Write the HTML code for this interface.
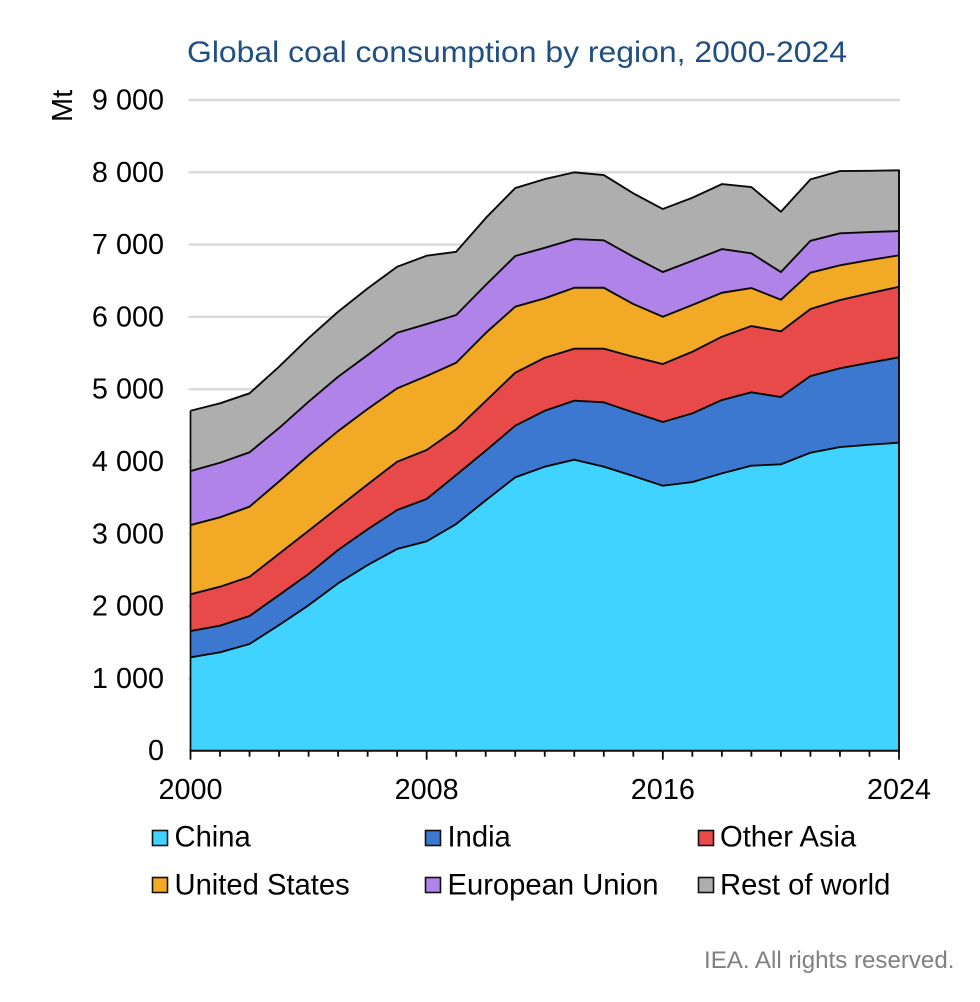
<!DOCTYPE html>
<html lang="en">
<head>
<meta charset="utf-8">
<title>Global coal consumption by region, 2000-2024</title>
<style>
html,body{margin:0;padding:0;background:#fff;width:980px;height:1002px;overflow:hidden}
svg{display:block}
text{font-family:"Liberation Sans",Arial,sans-serif;fill:#000}
</style>
</head>
<body>
<svg id="chart" xmlns="http://www.w3.org/2000/svg" width="980" height="1002" viewBox="0 0 980 1002">
  <rect width="980" height="1002" fill="#fff"/>
  <text x="187" y="62" font-size="29.6" textLength="660" lengthAdjust="spacingAndGlyphs" style="fill:#1f4e82">Global coal consumption by region, 2000-2024</text>
  <text transform="translate(72,122) rotate(-90)" font-size="29">Mt</text>
  <g id="grid"></g>
  <g id="yticks"></g>
  <g id="areas"></g>
  <g id="xaxis"></g>
  <g>
    <g>
      <rect x="152.5" y="830.5" width="15" height="15" fill="#41d3ff" stroke="#111" stroke-width="1.6"/>
      <text x="174.5" y="846.5" font-size="29.2">China</text>
    </g>
    <g>
      <rect x="425.5" y="830.5" width="15" height="15" fill="#3c78d0" stroke="#111" stroke-width="1.6"/>
      <text x="447.5" y="846.5" font-size="29.2">India</text>
    </g>
    <g>
      <rect x="698.5" y="830.5" width="15" height="15" fill="#e84a4a" stroke="#111" stroke-width="1.6"/>
      <text x="720" y="846.5" font-size="29.2">Other Asia</text>
    </g>
    <g>
      <rect x="152.5" y="877.5" width="15" height="15" fill="#f2a925" stroke="#111" stroke-width="1.6"/>
      <text x="174.5" y="894.5" font-size="29.2">United States</text>
    </g>
    <g>
      <rect x="425.5" y="877.5" width="15" height="15" fill="#b083e8" stroke="#111" stroke-width="1.6"/>
      <text x="447.5" y="894.5" font-size="29.2">European Union</text>
    </g>
    <g>
      <rect x="698.5" y="877.5" width="15" height="15" fill="#aeaeae" stroke="#111" stroke-width="1.6"/>
      <text x="720" y="894.5" font-size="29.2">Rest of world</text>
    </g>
  </g>
  <text x="704" y="968" font-size="24.1" style="fill:#808080">IEA. All rights reserved.</text>
</svg>
<script>
const years = [2000,2001,2002,2003,2004,2005,2006,2007,2008,2009,2010,2011,2012,2013,2014,2015,2016,2017,2018,2019,2020,2021,2022,2023,2024];
const china = [1292,1361,1476,1738,2011,2315,2568,2790,2896,3135,3463,3781,3928,4025,3928,3799,3665,3716,3836,3942,3961,4121,4200,4232,4260];
const india = [363,368,387,415,433,461,494,539,585,678,686,714,774,816,890,881,881,950,1014,1015,931,1061,1089,1134,1181];
const otherAsia = [508,539,543,571,599,587,622,668,678,632,687,733,733,719,742,769,802,852,876,917,908,927,944,960,976];
const unitedStates = [958,960,969,999,1040,1058,1042,1015,1023,921,941,913,822,843,843,729,654,646,608,525,437,502,480,460,434];
const europeanUnion = [747,755,752,740,744,751,746,769,719,660,664,701,699,674,656,654,618,613,604,480,383,442,443,388,336];
const restOfWorld = [834,822,816,848,880,899,923,913,945,875,926,940,950,922,903,877,872,871,899,917,834,849,861,847,840];
const yTickValues = [0,1000,2000,3000,4000,5000,6000,7000,8000,9000];
const yTickLabels = ["0","1 000","2 000","3 000","4 000","5 000","6 000","7 000","8 000","9 000"];
const xTickLabels = ["2000","2008","2016","2024"];
const seriesNames = ["china","india","other-asia","united-states","european-union","rest-of-world"];
const seriesColors = ["#41d3ff","#3c78d0","#e84a4a","#f2a925","#b083e8","#aeaeae"];
const seriesValues = [china,india,otherAsia,unitedStates,europeanUnion,restOfWorld];

const NS = "http://www.w3.org/2000/svg";
const plot = {left:190.5, right:899, bottom:750.7, top:100, max:9000};
function xScale(year){
  return plot.left + (year - years[0]) / (years[years.length-1] - years[0]) * (plot.right - plot.left);
}
function yScale(v){
  return plot.bottom - v / plot.max * (plot.bottom - plot.top);
}
function make(tag, attrs, parent){
  const el = document.createElementNS(NS, tag);
  for (const k in attrs) el.setAttribute(k, attrs[k]);
  parent.appendChild(el);
  return el;
}

const gridG = document.getElementById("grid");
const yG = document.getElementById("yticks");
yTickValues.forEach(function(v, i){
  if (v > 0) {
    const line = make("line", {x1:188.5, x2:900, y1:yScale(v), y2:yScale(v), stroke:"#d9d9d9", "stroke-width":2.4}, gridG);
    
    
  }
  const label = make("text", {x:164, y:yScale(v)+9.5, "text-anchor":"end", "font-size":28.8}, yG);
  
  
  label.textContent = yTickLabels[i];
});

const areasG = document.getElementById("areas");
let lower = years.map(function(){ return 0; });
seriesValues.forEach(function(vals, s){
  const upper = vals.map(function(v, i){ return lower[i] + v; });
  const topPts = years.map(function(y, i){ return xScale(y).toFixed(2) + "," + yScale(upper[i]).toFixed(2); });
  const botPts = years.map(function(y, i){ return xScale(y).toFixed(2) + "," + yScale(lower[i]).toFixed(2); }).reverse();
  const area = make("polygon", {points:topPts.concat(botPts).join(" "), fill:seriesColors[s], stroke:"none"}, areasG);
  
  
  lower = upper;
});
let running = years.map(function(){ return 0; });
seriesValues.forEach(function(vals, s){
  running = running.map(function(r, i){ return r + vals[i]; });
  const pts = years.map(function(y, i){ return xScale(y).toFixed(2) + "," + yScale(running[i]).toFixed(2); });
  const line = make("polyline", {points:pts.join(" "), fill:"none", stroke:"#0a0a0a", "stroke-width":1.9, "stroke-linejoin":"round"}, areasG);
  
  
});
const totals = running;
const leftEdge = make("line", {x1:xScale(years[0]), x2:xScale(years[0]), y1:yScale(totals[0]), y2:plot.bottom, stroke:"#0a0a0a", "stroke-width":1.7}, areasG);


const rightEdge = make("line", {x1:xScale(years[years.length-1]), x2:xScale(years[years.length-1]), y1:yScale(totals[totals.length-1])-0.8, y2:plot.bottom, stroke:"#0a0a0a", "stroke-width":1.9}, areasG);



const xG = document.getElementById("xaxis");
const axisLine = make("line", {x1:plot.left-1, x2:plot.right+1, y1:plot.bottom, y2:plot.bottom, stroke:"#0a0a0a", "stroke-width":2}, xG);


years.forEach(function(y){
  const major = xTickLabels.indexOf(String(y)) >= 0;
  const tick = make("line", {x1:xScale(y), x2:xScale(y), y1:plot.bottom, y2:plot.bottom + (major ? 9 : 6), stroke:"#0a0a0a", "stroke-width":1.8}, xG);
  
  
});
xTickLabels.forEach(function(t){
  const label = make("text", {x:xScale(Number(t)), y:799, "text-anchor":"middle", "font-size":28.8}, xG);
  
  
  label.textContent = t;
});
</script>
</body>
</html>
